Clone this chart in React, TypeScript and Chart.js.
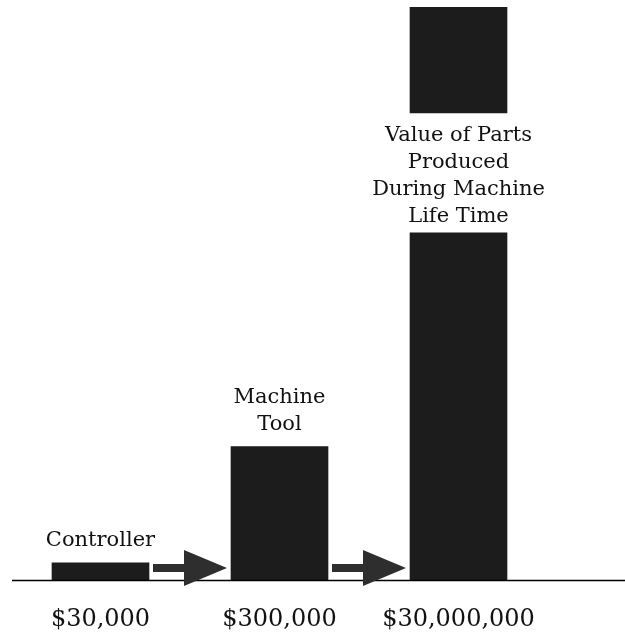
import React, { useEffect, useRef } from "react";
import { Chart, registerables } from "chart.js";

Chart.register(...registerables);

// ---- data ----
const costLabels: string[] = ["$30,000", "$300,000", "$30,000,000"];
const itemNames: string[][] = [
  ["Controller"],
  ["Machine", "Tool"],
  ["Value of Parts", "Produced", "During Machine", "Life Time"],
];
// relative (illustrative) bar heights, tallest bar = 100
const relativeHeights: number[] = [3, 23.3, 100];
// the tallest bar is broken to leave room for its caption
const breakGap: number[] = [60.6, 81.5];

const FONT = "'DejaVu Serif', serif";
const BAR_COLOR = "#1c1c1c";
const ARROW_COLOR = "#2e2e2e";
const TEXT_COLOR = "#111";

const decorPlugin = {
  id: "decor",
  afterDatasetsDraw(chart: any) {
    const ctx = chart.ctx as CanvasRenderingContext2D;
    const meta = chart.getDatasetMeta(0);
    const yScale = chart.scales.y;
    const base = yScale.getPixelForValue(0);
    const bars = meta.data as any[];

    ctx.save();
    // baseline
    ctx.strokeStyle = "#000";
    ctx.lineWidth = 1.5;
    ctx.beginPath();
    ctx.moveTo(12, base + 0.5);
    ctx.lineTo(chart.width, base + 0.5);
    ctx.stroke();

    // arrows between bars
    ctx.fillStyle = ARROW_COLOR;
    for (let i = 0; i < bars.length - 1; i++) {
      const a = bars[i];
      const b = bars[i + 1];
      const x0 = a.x + a.width / 2 + 4;
      const tip = b.x - b.width / 2 - 4;
      const cy = base - 12;
      const headLen = 43;
      const headHalf = 18;
      const shaftHalf = 4;
      const hx = tip - headLen;
      ctx.beginPath();
      ctx.moveTo(x0, cy - shaftHalf);
      ctx.lineTo(hx, cy - shaftHalf);
      ctx.lineTo(hx, cy - headHalf);
      ctx.lineTo(tip, cy);
      ctx.lineTo(hx, cy + headHalf);
      ctx.lineTo(hx, cy + shaftHalf);
      ctx.lineTo(x0, cy + shaftHalf);
      ctx.closePath();
      ctx.fill();
    }

    // captions
    ctx.fillStyle = TEXT_COLOR;
    ctx.font = `21px ${FONT}`;
    ctx.textAlign = "center";
    ctx.textBaseline = "middle";
    const lh = 27;
    bars.forEach((bar: any, i: number) => {
      const lines = itemNames[i];
      if (i === bars.length - 1) {
        const top = yScale.getPixelForValue(breakGap[1]);
        const bottom = yScale.getPixelForValue(breakGap[0]);
        const mid = (top + bottom) / 2 + 3;
        const start = mid - ((lines.length - 1) * lh) / 2;
        lines.forEach((t, k) => ctx.fillText(t, bar.x, start + k * lh));
      } else {
        const lastY = bar.y - 22;
        lines.forEach((t, k) =>
          ctx.fillText(t, bar.x, lastY - (lines.length - 1 - k) * lh)
        );
      }
    });
    ctx.restore();
  },
};

export default function App() {
  const ref = useRef<HTMLCanvasElement | null>(null);

  useEffect(() => {
    if (!ref.current) return;
    const last = relativeHeights.length - 1;
    const lower = relativeHeights.map((h, i) =>
      i === last ? [0, breakGap[0]] : [0, h]
    );
    const upper = relativeHeights.map((h, i) =>
      i === last ? [breakGap[1], h] : null
    );
    const chart = new Chart(ref.current, {
      type: "bar",
      data: {
        labels: costLabels,
        datasets: [
          {
            label: "lower",
            data: lower as any,
            backgroundColor: BAR_COLOR,
            borderWidth: 0,
            barThickness: 97,
            grouped: false,
          } as any,
          {
            label: "upper",
            data: upper as any,
            backgroundColor: BAR_COLOR,
            borderWidth: 0,
            barThickness: 97,
            grouped: false,
          } as any,
        ],
      },
      options: {
        responsive: false,
        animation: false,
        layout: { padding: { top: 7, left: 11, right: 77, bottom: 0 } },
        plugins: {
          legend: { display: false },
          tooltip: { enabled: false },
        },
        scales: {
          x: {
            grid: { display: false, drawTicks: false },
            border: { display: false },
            ticks: {
              color: TEXT_COLOR,
              padding: 25,
              font: { family: FONT, size: 24 },
              maxRotation: 0,
            },
            afterFit: (scale: any) => {
              scale.height = 54;
            },
          },
          y: {
            display: false,
            min: 0,
            max: 100,
          },
        },
      },
      plugins: [decorPlugin],
    });
    return () => chart.destroy();
  }, []);

  return (
    <div style={{ position: "absolute", left: 0, top: 0, width: 625, height: 634, background: "#fff" }}>
      <canvas ref={ref} width={625} height={634} style={{ display: "block" }} />
    </div>
  );
}
